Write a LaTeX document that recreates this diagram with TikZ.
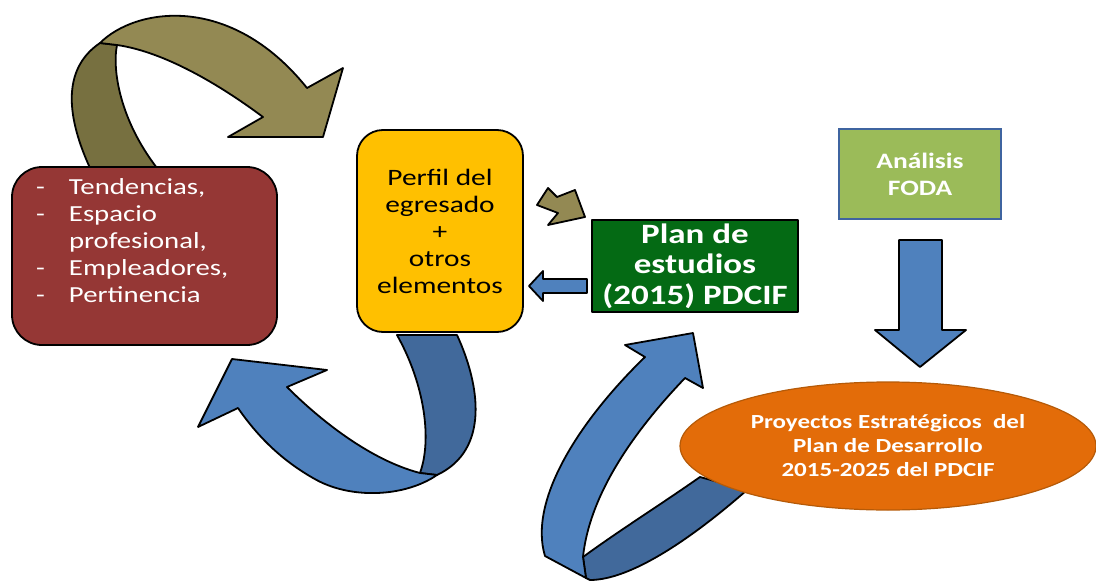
\documentclass[tikz,border=0pt]{standalone}
\usepackage{fontspec}
\setmainfont{Carlito}[FakeStretch=1.25]
\usetikzlibrary{shapes.geometric}
\definecolor{redbox}{HTML}{953735}
\definecolor{yellowbox}{HTML}{FFC000}
\definecolor{greenbox}{HTML}{046A14}
\definecolor{fodafill}{HTML}{9BBB59}
\definecolor{fodaline}{HTML}{3F64A0}
\definecolor{olivefront}{HTML}{938953}
\definecolor{oliveback}{HTML}{777040}
\definecolor{bluefront}{HTML}{4F81BD}
\definecolor{blueback}{HTML}{41699B}
\definecolor{orangefill}{HTML}{E36C09}
\definecolor{orangeline}{HTML}{B55A08}
\tikzset{
  outl/.style={draw=black, line width=1.8, line join=round},
  box/.style={outl, inner sep=0pt},
  wtext/.style={text=white, align=center, font=\bfseries},
}
\begin{document}
\begin{tikzpicture}[x=1pt,y=-1pt]
\useasboundingbox (0,0) rectangle (1096,581);
% ---- olive curved arrow (top left)
\fill[oliveback, outl] (90,168) .. controls (68,120) and (60,70) .. (100,43)
  -- (117,45) .. controls (112,70) and (120,120) .. (157,168) -- cycle;
\fill[olivefront, outl] (100,43) .. controls (135,8) and (230,-8) .. (307,88)
  -- (343,68) -- (323,137) -- (228,137) -- (263,117)
  .. controls (220,85) and (165,52) .. (117,45) -- cycle;
% ---- blue curved arrow (yellow -> red)
\fill[blueback, outl] (397,335) -- (457,335)
  .. controls (480,385) and (490,450) .. (437,475) -- (420,473)
  .. controls (432,440) and (425,385) .. cycle;
\fill[bluefront, outl] (420,473) -- (437,475)
  .. controls (405,497) and (350,500) .. (313,478)
  .. controls (285,462) and (260,440) .. (238,408)
  -- (198,427) -- (232,359) -- (327,370) -- (287,387)
  .. controls (320,420) and (370,460) .. cycle;
% ---- blue curved arrow (ellipse -> plan)
\fill[blueback, outl] (583,557) .. controls (620,530) and (660,505) .. (700,477)
  -- (747,490) .. controls (690,540) and (630,580) .. (590,580) -- (586,578) -- cycle;
\fill[bluefront, outl] (586,578) -- (545,556)
  .. controls (528,500) and (580,420) .. (645,357)
  -- (625,345) -- (693,333) -- (703,388) -- (685,378)
  .. controls (640,425) and (590,490) .. (583,557) -- cycle;
% ---- boxes
\node[box, fill=redbox, rounded corners=30, minimum width=265, minimum height=178] (red) at (144.5,256) {};
\node[anchor=north west, text=white, inner sep=0pt, font=\fontsize{23}{27}\selectfont, align=left] (redtxt) at (36,175)
  {\begin{tabular}{@{}l@{\hspace{24pt}}l@{}}
  - & Tendencias,\\ - & Espacio\\ & profesional,\\ - & Empleadores,\\ - & Pertinencia
  \end{tabular}};
\node[box, fill=yellowbox, rounded corners=26, minimum width=166, minimum height=202, align=center,
  font=\fontsize{23.5}{27}\selectfont] (yellow) at (440,231)
  {Perfil del\\egresado\\+\\otros\\elementos};
\node[box, fill=greenbox, minimum width=206, minimum height=92, wtext,
  font=\bfseries\fontsize{28}{30.5}\selectfont] (plan) at (695,266)
  {Plan de\\estudios\\(2015) PDCIF};
\node[draw=fodaline, line width=2.5, fill=fodafill, inner sep=0pt, minimum width=162, minimum height=90, wtext,
  font=\bfseries\fontsize{22}{27}\selectfont] (foda) at (920,174)
  {Análisis\\FODA};
% ---- small arrows
\fill[olivefront, outl] (537,205) -- (548,188) -- (557,197) -- (575,190) -- (585,217)
  -- (548,225) -- (558,213) -- cycle;
\fill[bluefront, outl] (587,279) -- (543,279) -- (543,271) -- (529,286) -- (543,301)
  -- (543,293) -- (587,293) -- cycle;
\fill[bluefront, outl] (899,240) -- (942,240) -- (942,330) -- (966,330) -- (920,367)
  -- (875,330) -- (899,330) -- cycle;
% ---- ellipse
\node[ellipse, draw=orangeline, line width=1.2, fill=orangefill, minimum width=416, minimum height=128,
  inner sep=0pt, wtext, font=\bfseries\fontsize{20}{24}\selectfont] (proy) at (888,446)
  {Proyectos Estratégicos~ del\\Plan de Desarrollo\\2015-2025 del PDCIF};
\end{tikzpicture}
\end{document}
